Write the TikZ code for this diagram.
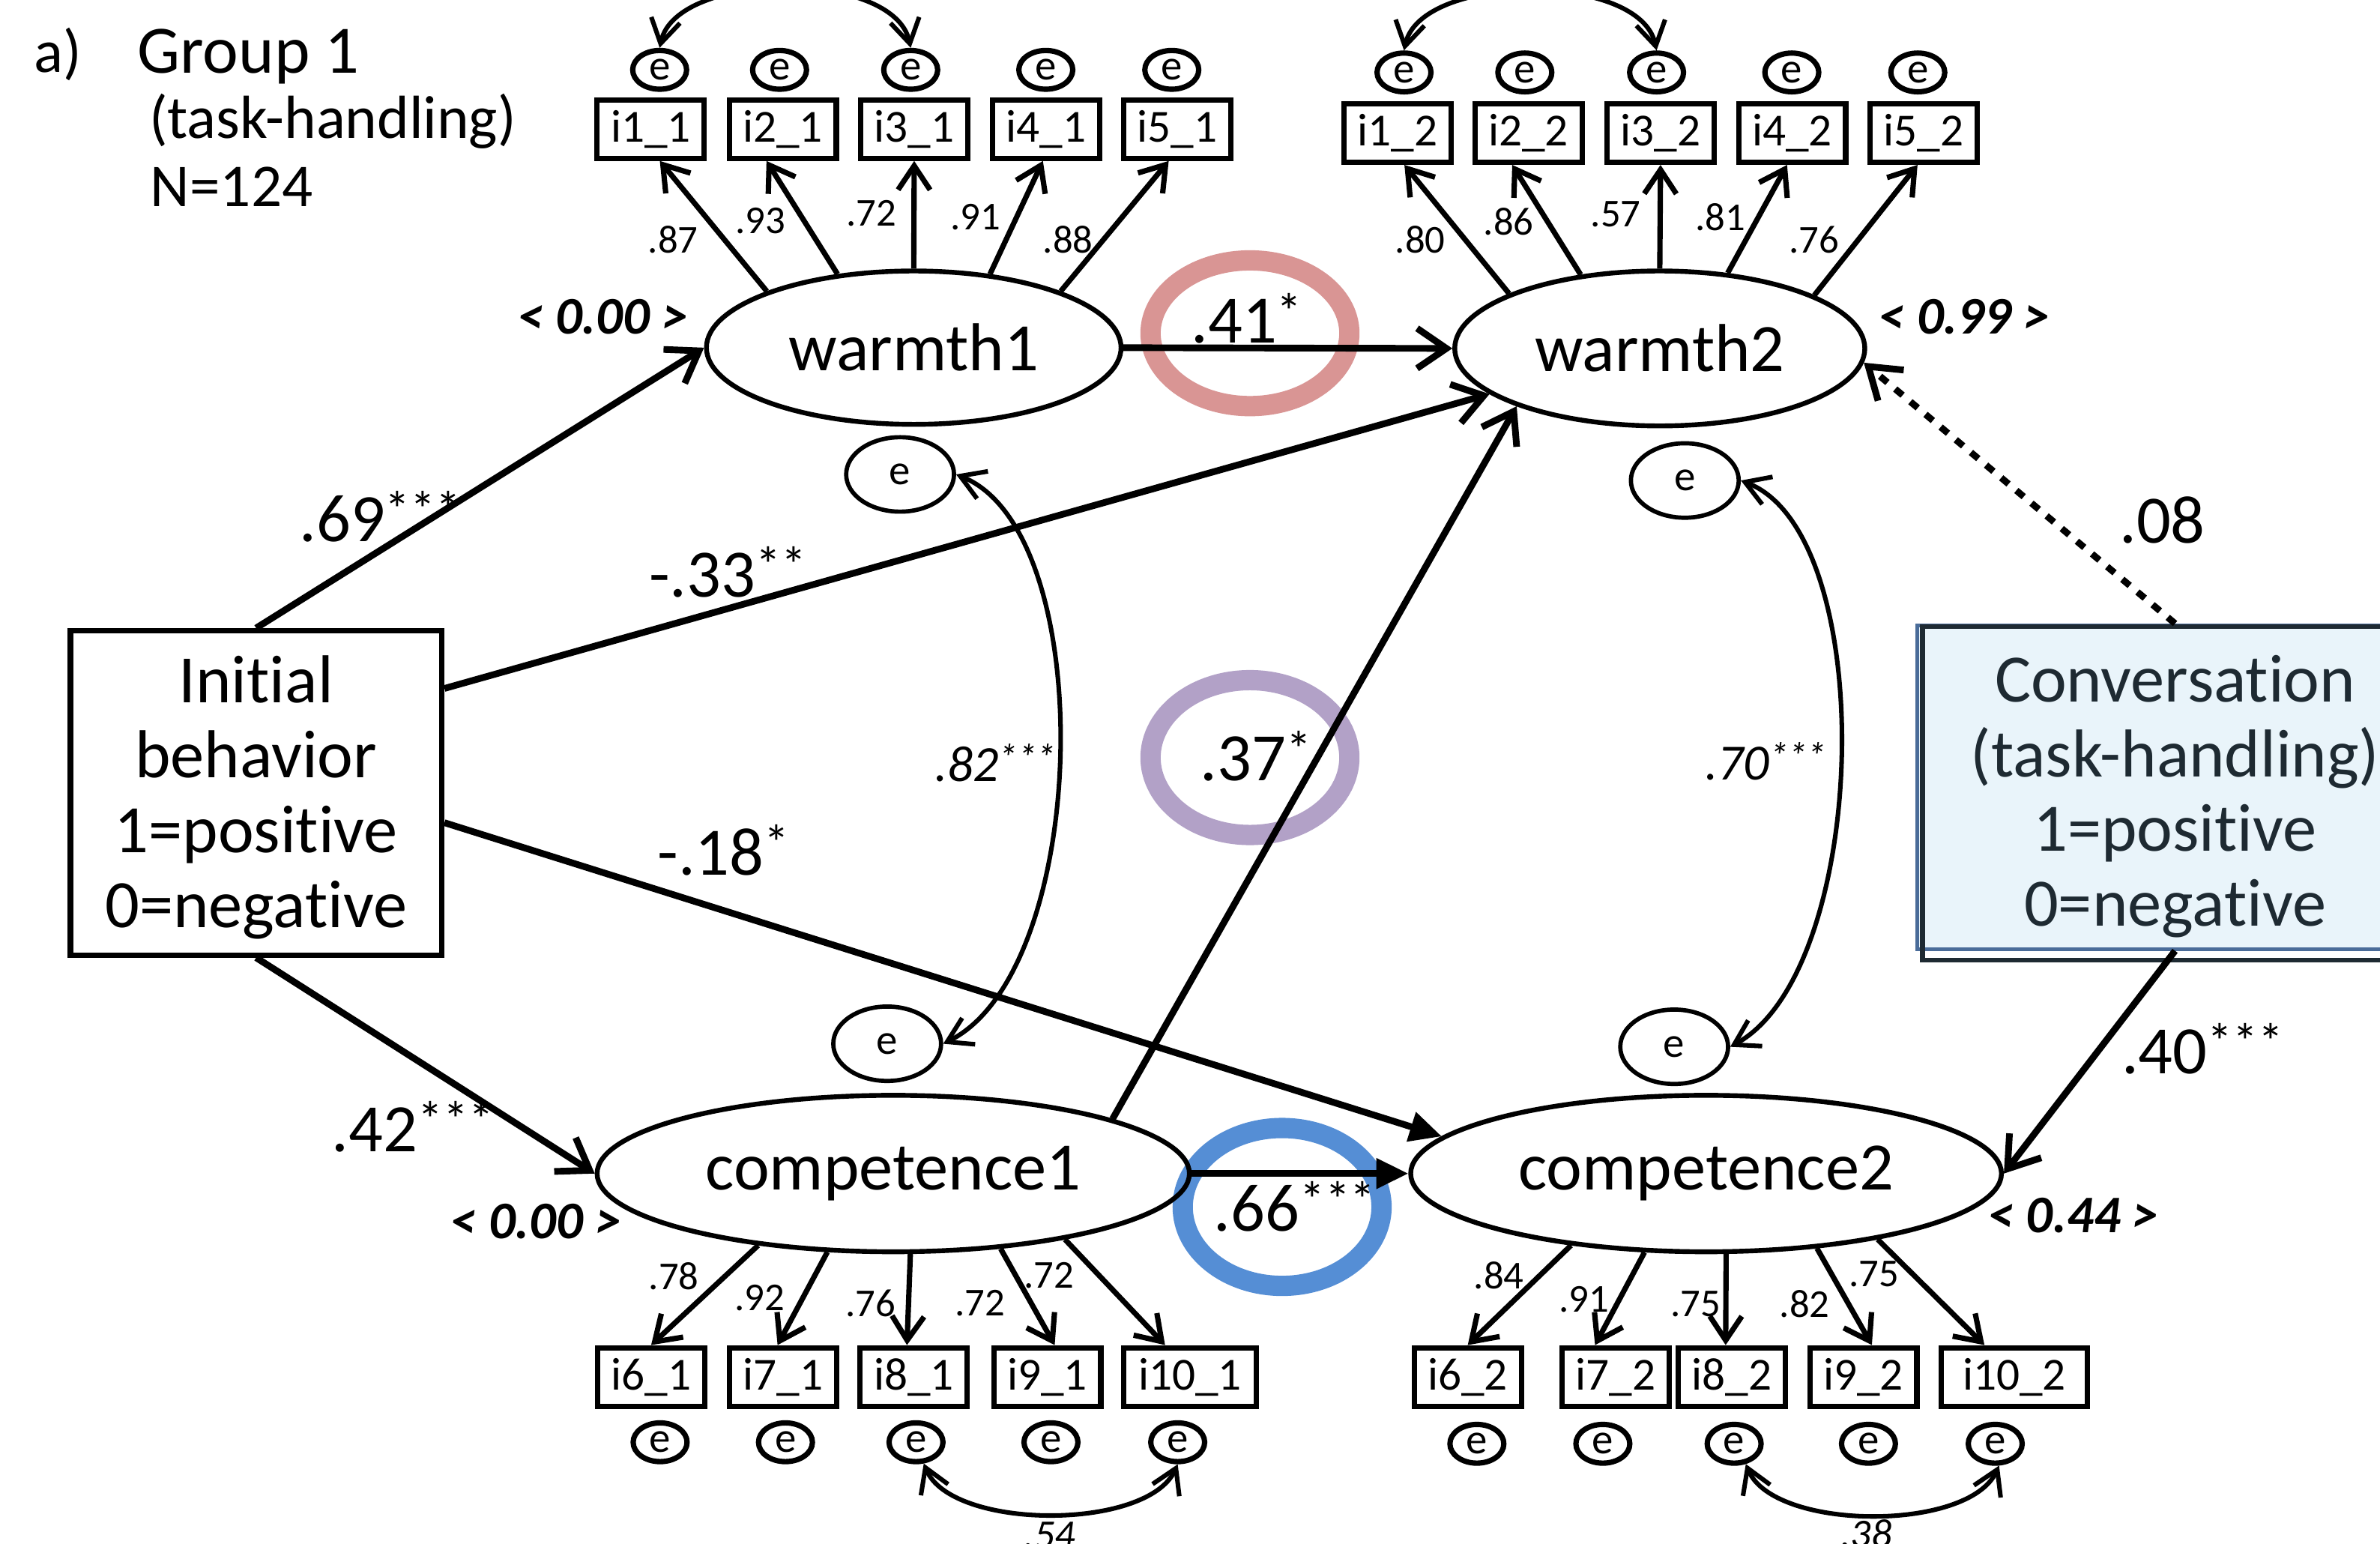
\documentclass[tikz,border=0pt]{standalone}
\usepackage{fontspec}
\setmainfont{Carlito}[Ligatures=NoCommon]
\usepackage{graphicx}
\usepackage{tikz}
\usetikzlibrary{arrows.meta}
\usetikzlibrary{shapes.geometric}

\definecolor{ringred}{RGB}{217,149,148}
\definecolor{ringlilac}{RGB}{178,161,199}
\definecolor{ringblue}{RGB}{85,142,213}
\definecolor{convfill}{RGB}{233,244,250}
\definecolor{convedge}{RGB}{74,108,153}
\definecolor{convtext}{RGB}{30,42,50}

\newcommand{\semfont}{\fontsize{12.7}{14}\selectfont}
\newcommand{\grpfont}{\fontsize{11.4}{13}\selectfont}
\newcommand{\itemfont}{\fontsize{8.6}{10}\selectfont}
\newcommand{\loadfont}{\fontsize{7.4}{9}\selectfont}
\newcommand{\errfont}{\fontsize{8}{9}\selectfont}
\newcommand{\varfont}{\fontsize{9.9}{11}\selectfont\bfseries\itshape}
\newcommand{\covfont}{\fontsize{9.5}{11}\selectfont\itshape}
\newcommand{\covsmallfont}{\fontsize{7.6}{9}\selectfont\itshape}
% significance stars
\newcommand{\sig}[1]{\raisebox{0.43ex}{\scalebox{0.75}{#1}}}

\begin{document}
\begin{tikzpicture}[x=0.01cm,y=0.01cm,yscale=-1,
  item/.style={draw,line width=1pt,rectangle,minimum width=0.705cm,minimum height=0.385cm,inner sep=0pt,font=\itemfont},
  err/.style={draw,line width=1pt,ellipse,minimum width=0.355cm,minimum height=0.255cm,inner sep=0pt,font=\errfont},
  latent/.style={draw,line width=0.9pt,ellipse,inner sep=0pt,font=\semfont},
  resid/.style={draw,line width=0.8pt,ellipse,minimum width=0.71cm,minimum height=0.49cm,inner sep=0pt,font=\errfont},
  loading/.style={line width=1pt,-{Straight Barb[length=4.5pt,width=6pt]}},
  semarrow/.style={line width=1.25pt,-{Straight Barb[length=5.5pt,width=7.5pt]}},
  semfilled/.style={line width=1.25pt,-{Triangle[length=6pt,width=5.5pt]}},
  covarrow/.style={line width=0.85pt,{Straight Barb[length=4.5pt,width=5.5pt]}-{Straight Barb[length=4.5pt,width=5.5pt]}},
  coef/.style={inner sep=0pt,font=\semfont,anchor=base west},
  lbl/.style={inner sep=0pt,font=\loadfont},
  ring/.style={line width=3.8pt}]
\useasboundingbox[fill=white] (0,0) rectangle (1568,1017);

%Shape: Ellipse rings round the key paths
\draw[ring,ringred] (823.5,219.5) ellipse [x radius=65.5, y radius=48];
\draw[ring,ringlilac] (823.5,499) ellipse [x radius=65.5, y radius=51];
\draw[ring,ringblue] (844.7,795) ellipse [x radius=65.5, y radius=52];

% Text Node
\node[anchor=base west,inner sep=0pt,font=\grpfont] (tag) at (22,47.7) {a)};
\node[anchor=base west,inner sep=0pt,font=\semfont] (grp) at (90,48) {Group 1};
\node[anchor=base west,inner sep=0pt,font=\grpfont] (grptask) at (97.6,91.3) {(task-handling)};
\node[anchor=base west,inner sep=0pt,font=\grpfont] (grpn) at (98.5,135.8) {N=124};

%Shape: Rectangle exogenous
\node[draw,line width=1pt,minimum width=2.445cm,minimum height=2.135cm,align=center,font=\semfont,inner sep=0pt] (init) at (168.75,522.25) {\rule{0pt}{10.5pt}Initial\\behavior\\1=positive\\0=negative};
\node[draw=convedge,line width=0.7pt,fill=convfill,text=convtext,minimum width=3.4cm,minimum height=2.13cm,align=center,font=\semfont,inner sep=0pt] (conv) at (1433,518.5) {\rule{0pt}{12.2pt}Conversation\\(task-handling)\\1=positive\\0=negative};
\draw[line width=0.9pt,convtext] ([shift={(5,2)}]conv.north west) rectangle ([shift={(5,6)}]conv.south east);

%Shape: Ellipse latent
\node[latent,minimum width=2.73cm,minimum height=1.01cm] (w1) at (602,229) {warmth1};
\node[latent,minimum width=2.70cm,minimum height=1.02cm] (w2) at (1093.5,229.5) {warmth2};
\node[latent,minimum width=3.90cm,minimum height=1.03cm] (c1) at (588.5,773) {competence1};
\node[latent,minimum width=3.89cm,minimum height=1.03cm] (c2) at (1124,773) {competence2};

%Shape: Ellipse disturbances
\node[resid] (rw1) at (593,312.5) {e};
\node[resid] (rw2) at (1110,316.5) {e};
\node[resid] (rc1) at (584.5,687.5) {e};
\node[resid] (rc2) at (1103,689.5) {e};

%Shape: Rectangle items, warmth 1
\node[item] (i11) at (428.7,85) {i1\_1};
\node[item] (i21) at (515.7,85) {i2\_1};
\node[item] (i31) at (602.3,85) {i3\_1};
\node[item] (i41) at (689.3,85) {i4\_1};
\node[item] (i51) at (775.6,85) {i5\_1};
\node[err] (e11) at (434.6,46) {e};
\node[err] (e21) at (513.6,46) {e};
\node[err] (e31) at (600,46) {e};
\node[err] (e41) at (689,46) {e};
\node[err] (e51) at (772,46) {e};

%Shape: Rectangle items, warmth 2
\node[item] (i12) at (920.8,87.6) {i1\_2};
\node[item] (i22) at (1007,87.6) {i2\_2};
\node[item] (i32) at (1094,87.6) {i3\_2};
\node[item] (i42) at (1180.7,87.6) {i4\_2};
\node[item] (i52) at (1267.4,87.6) {i5\_2};
\node[err] (e12) at (925,47.7) {e};
\node[err] (e22) at (1004.6,47.7) {e};
\node[err] (e32) at (1091.4,47.7) {e};
\node[err] (e42) at (1180.5,47.7) {e};
\node[err] (e52) at (1263.5,47.7) {e};

%Shape: Rectangle items, competence 1
\node[item] (i61) at (429,907) {i6\_1};
\node[item] (i71) at (516,907) {i7\_1};
\node[item] (i81) at (602,907) {i8\_1};
\node[item] (i91) at (690,907) {i9\_1};
\node[item,minimum width=0.87cm] (i101) at (784,907) {i10\_1};
\node[err] (e61) at (434.9,950) {e};
\node[err] (e71) at (517.5,950) {e};
\node[err] (e81) at (603.5,950) {e};
\node[err] (e91) at (692.4,950) {e};
\node[err] (e101) at (775.9,950) {e};

%Shape: Rectangle items, competence 2
\node[item] (i62) at (967,907) {i6\_2};
\node[item] (i72) at (1064.5,907) {i7\_2};
\node[item] (i82) at (1141,907) {i8\_2};
\node[item] (i92) at (1227.6,907) {i9\_2};
\node[item,minimum width=0.96cm] (i102) at (1327,907) {i10\_2};
\node[err] (e62) at (973,951) {e};
\node[err] (e72) at (1056,951) {e};
\node[err] (e82) at (1142.5,951) {e};
\node[err] (e92) at (1231,951) {e};
\node[err] (e102) at (1314.5,951) {e};

%Straight Lines loadings
\draw[loading] (w1.159) -- (i11.-74);
\draw[loading] (w1.136) -- (i21.-117);
\draw[loading] (w1.90) -- (i31.south);
\draw[loading] (w1.44) -- (i41.-96);
\draw[loading] (w1.21) -- (i51.-105);
\draw[loading] (w2.160) -- (i12.-78);
\draw[loading] (w2.137) -- (i22.-117);
\draw[loading] (w2.90) -- (i32.south);
\draw[loading] (w2.48) -- (i42.-99);
\draw[loading] (w2.19.5) -- (i52.-101);
\draw[loading] (c1.-152) -- (i61.north);
\draw[loading] (c1.-130.5) -- (i71.100);
\draw[loading] (c1.-78.6) -- (i81.102);
\draw[loading] (c1.-35) -- (i91.77);
\draw[loading] (c1.-21.6) -- (i101.128);
\draw[loading] (c2.-152) -- (i62.north);
\draw[loading] (c2.-128.5) -- (i72.123);
\draw[loading] (c2.-76) -- (i82.101);
\draw[loading] (c2.-34) -- (i92.75);
\draw[loading] (c2.-21) -- (i102.133);

%Straight Lines structural paths
\draw[semarrow] (init.north) -- (w1.west);
\draw[semarrow] (init.29.2) -- (w2.-165);
\draw[semfilled] (init.-9.9) -- (c2.172);
\draw[semarrow] (init.south) -- (c1.west);
\draw[semarrow] (w1.east) -- (w2.west);
\draw[semfilled] (c1.east) -- (c2.west);
\draw[semarrow] (c1.14.4) -- (w2.-158);
\draw[semarrow,dash pattern=on 1.8pt off 1.9pt] (conv.north) -- (w2.-4);
\draw[semarrow] (conv.south) -- (c2.east);

%Curve Lines covariances
\draw[covarrow] (rw1.east) .. controls +(95,38) and +(97,-48) .. (rc1.east);
\draw[covarrow] (rw2.east) .. controls +(92,35) and +(92,-50) .. (rc2.east);
\draw[covarrow] (e11.north) .. controls +(11,-51) and +(-11,-52) .. (e31.north);
\draw[covarrow] (e12.north) .. controls +(11,-51) and +(-11,-52) .. (e32.north);
\draw[covarrow] (e81.-70) .. controls +(18,44) and +(-20,44) .. (e101.south);
\draw[covarrow] (e82.-60) .. controls +(18,44) and +(-20,44) .. (e102.-80);

% Text Node loadings
\node[lbl] (lw11) at (443.5,158) {.87};
\node[lbl] (lw21) at (501,145.6) {.93};
\node[lbl] (lw31) at (574,140.7) {.72};
\node[lbl] (lw41) at (642.5,143) {.91};
\node[lbl] (lw51) at (703.6,158) {.88};
\node[lbl] (lw12) at (935.7,158) {.80};
\node[lbl] (lw22) at (994,146) {.86};
\node[lbl] (lw32) at (1064.5,141) {.57};
\node[lbl] (lw42) at (1133.5,143) {.81};
\node[lbl] (lw52) at (1195,158) {.76};
\node[lbl] (lc61) at (444,840.5) {.78};
\node[lbl] (lc71) at (500.6,855) {.92};
\node[lbl] (lc81) at (573.5,858.5) {.76};
\node[lbl] (lc91) at (645.6,858.5) {.72};
\node[lbl] (lc101) at (691,840) {.72};
\node[lbl] (lc62) at (987.5,840) {.84};
\node[lbl] (lc72) at (1043.7,856) {.91};
\node[lbl] (lc82) at (1117,859) {.75};
\node[lbl] (lc92) at (1189,859) {.82};
\node[lbl] (lc102) at (1234.5,839) {.75};

% Text Node path coefficients
\node[coef] (p69) at (196.5,356.5) {.69\sig{***}};
\node[coef] (p33) at (427,393) {-.33\sig{**}};
\node[coef] (p18) at (432.5,576.4) {-.18\sig{*}};
\node[coef] (p42) at (218,758.4) {.42\sig{***}};
\node[coef] (p41) at (784,226) {.41\sig{*}};
\node[coef] (p37) at (790,514.4) {.37\sig{*}};
\node[coef] (p66) at (799,811) {.66\sig{***}};
\node[coef] (p08) at (1395.6,357.6) {.08};
\node[coef] (p40) at (1397,707) {.40\sig{***}};
\node[coef,font=\covfont] (r82) at (615,514.5) {.82\sig{***}};
\node[coef,font=\covfont] (r70) at (1122.7,513.5) {.70\sig{***}};
\node[coef,font=\covsmallfont] (r54) at (674,1019.5) {.54};
\node[coef,font=\covsmallfont] (r38) at (1212,1019) {.38};

% Text Node R squared
\node[coef,font=\varfont] (v1) at (340,219.7) {< 0.00 >};
\node[coef,font=\varfont] (v2) at (1237,219.7) {< 0.99 >};
\node[coef,font=\varfont] (v3) at (296,816) {< 0.00 >};
\node[coef,font=\varfont] (v4) at (1309,812) {< 0.44 >};

\end{tikzpicture}
\end{document}
